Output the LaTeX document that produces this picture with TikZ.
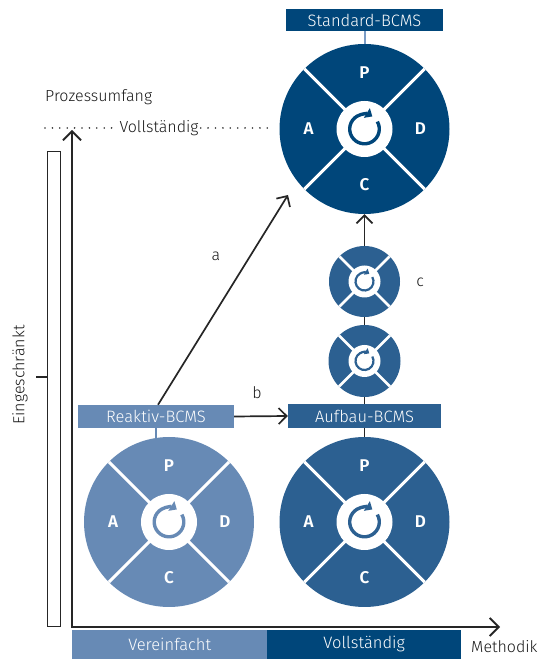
\documentclass[tikz,border=0pt]{standalone}
\usepackage{fontspec}
\setmainfont{Fira Sans}[UprightFont={* Light}]
\usetikzlibrary{arrows.meta,calc}

\definecolor{bcmsdark}{RGB}{0,70,122}
\definecolor{bcmsmid}{RGB}{44,96,145}
\definecolor{bcmslight}{RGB}{103,138,181}
\definecolor{bcmsstem}{RGB}{122,156,198}

\tikzset{
  axislabel/.style={font=\fontsize{16}{19}\selectfont, text=black!90, inner sep=2pt},
  letter/.style={font=\fontsize{17}{20}\selectfont\bfseries, text=white, inner sep=0pt},
  labelbox/.style={draw=none, text=white, inner sep=0pt,
    font=\fontsize{16.5}{19}\selectfont},
  axisline/.style={line width=1.8pt, black!85,
    {Straight Barb[length=9pt,width=18pt]}-{Straight Barb[length=9pt,width=18pt]}},
  flowarrow/.style={line width=1.7pt, black!85, -{Straight Barb[length=8pt,width=16pt]}},
  chain/.style={line width=1.8pt, black!85},
  dotline/.style={line width=1.8pt, black!80, line cap=round, dash pattern=on 0pt off 7.4pt},
  wheelarrowbig/.style={line width=3.4pt, -{Triangle[length=6.5pt,width=11pt]}},
  wheelarrowsmall/.style={line width=2.2pt, -{Triangle[length=4.2pt,width=7pt]}},
}

% PDCA wheel: name, centre, radius, colour, hub radius, arrow radius, arrow style, divider width
\newcommand{\pdcawheel}[8]{%
  \node[circle, fill=#4, draw=none, inner sep=0pt, minimum size={2*#3pt}] (#1) at (#2) {};
  \foreach \ang in {45,135,225,315}
    \draw[white, line width=#8] (#1.center) -- ($(#1.center)+(\ang:#3pt)$);
  \fill[white] (#1.center) circle[radius=#5pt];
  \draw[#4, #7] ($(#1.center)+(30:#6pt)$) arc[start angle=30, end angle=-302, radius=#6pt];
}
% P, D, C, A around a wheel
\newcommand{\pdcaletters}[2]{%
  \node[letter] (#1-p) at ($(#1.center)+(0,#2)$) {P};
  \node[letter] (#1-d) at ($(#1.center)+(#2,0)$) {D};
  \node[letter] (#1-c) at ($(#1.center)+(0,-#2)$) {C};
  \node[letter] (#1-a) at ($(#1.center)+(-#2,0)$) {A};
}

\begin{document}
\begin{tikzpicture}[x=1pt,y=1pt]
\useasboundingbox (0,0) rectangle (540,659);

% scale bars along the bottom
\node[labelbox, fill=bcmslight, minimum width=195pt, minimum height=29pt, anchor=south west]
  (barsimple) at (72,0) {Vereinfacht};
\node[labelbox, fill=bcmsdark, minimum width=194pt, minimum height=29pt, anchor=south west]
  (barfull) at (267,0) {Vollständig};

% axes
\coordinate (origin) at (72,32);
\coordinate (ytip) at (72,529);
\coordinate (xtip) at (500,32);
\draw[axisline] (ytip) -- (origin) -- (xtip);
\node[axislabel, anchor=base west] (methodik) at (469,6) {Methodik};
\node[axislabel, anchor=west] (prozess) at (43,562) {Prozessumfang};

% level "Vollständig" on the process axis
\node[axislabel] (vollst) at (159,531) {Vollständig};
\coordinate (dotL) at (45,531);
\coordinate (dotR) at (274,531);
\draw[dotline] (dotL) -- (vollst.west);
\draw[dotline] (vollst.east) -- (dotR);

% level "Eingeschränkt" as a bracket
\node[draw=black!85, line width=1.4pt, minimum width=13pt, minimum height=475pt,
  inner sep=0pt, anchor=south west] (bracket) at (46.5,31.5) {};
\coordinate (tick) at (36,282);
\draw[line width=1.6pt, black!85] (tick) -- (tick -| bracket.west);
\node[axislabel, rotate=90] (einge) at (20,284) {Eingeschränkt};

% label boxes
\node[labelbox, fill=bcmsdark, minimum width=157pt, minimum height=22pt] (stdlbl) at (364.5,639) {Standard-BCMS};
\node[labelbox, fill=bcmslight, minimum width=156pt, minimum height=23pt] (rklbl) at (156,242.5) {Reaktiv-BCMS};
\node[labelbox, fill=bcmsmid, minimum width=153pt, minimum height=24pt] (aulbl) at (364.5,243) {Aufbau-BCMS};

% wheels
\pdcawheel{std}{364.5,530}{85}{bcmsdark}{28}{14.8}{wheelarrowbig}{3pt}
\pdcaletters{std}{56}
\pdcawheel{rk}{169,137}{85}{bcmslight}{28}{14.8}{wheelarrowbig}{3pt}
\pdcaletters{rk}{56}
\pdcawheel{au}{364.5,137}{85}{bcmsmid}{28}{14.8}{wheelarrowbig}{3pt}
\pdcaletters{au}{56}
\pdcawheel{sma}{364.5,377.5}{35.5}{bcmsmid}{16}{9}{wheelarrowsmall}{2.5pt}
\pdcawheel{smb}{364.5,298}{36}{bcmsmid}{16}{9}{wheelarrowsmall}{2.5pt}

% stems from label boxes
\draw[bcmsstem, line width=2pt] (stdlbl.south) -- (std.north);
\draw[bcmslight, line width=2pt] (rklbl.south) -- ($(rklbl.south |- rk.north)+(0,-3)$);

% development chain
\draw[chain] (aulbl.south) -- (au.north);
\draw[chain] (smb.south) -- (aulbl.north);
\draw[chain] (sma.south) -- (smb.north);
\draw[flowarrow] (sma.north) -- (std.south);
\node[axislabel] (labc) at (420,377) {c};

% transitions a and b
\coordinate (aend) at (288,464);
\draw[flowarrow] ([xshift=2pt]rklbl.north) -- (aend);
\node[axislabel] (laba) at (216,403) {a};
\draw[flowarrow] (rklbl.east) -- (aulbl.west);
\node[axislabel] (labb) at (257,266) {b};

\end{tikzpicture}
\end{document}
